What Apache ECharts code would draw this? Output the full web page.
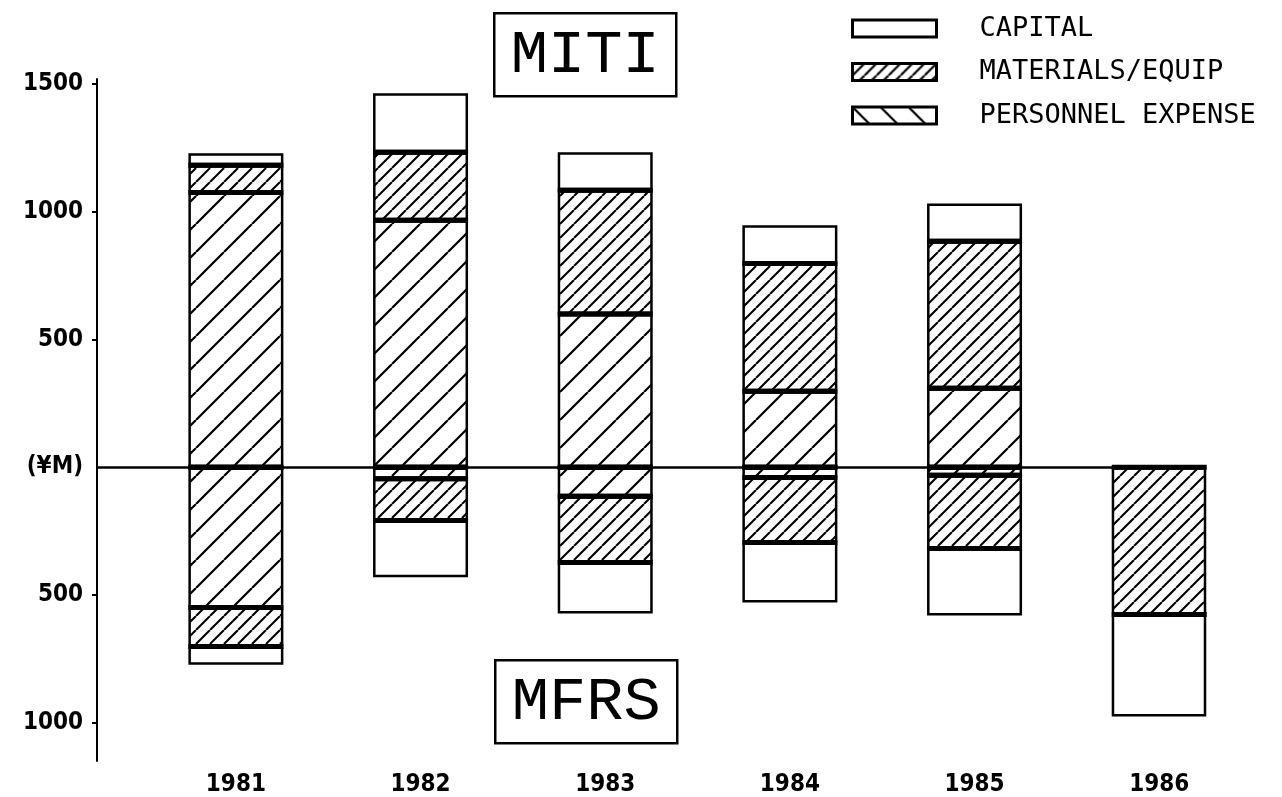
<!DOCTYPE html>
<html>
<head>
<meta charset="utf-8">
<title>MITI / MFRS budget</title>
<script src="https://cdn.jsdelivr.net/npm/echarts@6.0.0/dist/echarts.min.js"></script>
<style>
  html, body { margin: 0; padding: 0; background: #fff; }
  #chart { width: 1282px; height: 797px; }
</style>
</head>
<body>
<div id="chart"></div>
<script>
// values in ¥M; MFRS is drawn below zero
const years = ['1981', '1982', '1983', '1984', '1985', '1986'];
const mitiPersonnel = [1076, 967, 600, 298, 309, 0];
const mitiMaterials = [106, 266, 484, 500, 576, 0];
const mitiCapital = [47, 231, 149, 149, 148, 0];
const mfrsPersonnel = [-549, -45, -114, -40, -31, 0];
const mfrsMaterials = [-153, -163, -259, -255, -287, -576];
const mfrsCapital = [-71, -223, -200, -234, -262, -400];
const yTickValues = [-1000, -500, 0, 500, 1000, 1500];

const BAR_W = 95;
const GAP = -0.02;
const SHIFT = (BAR_W * (1 + GAP)) / 2;

const hatch = (step, forward, width) => {
  const c = document.createElement('canvas');
  c.width = step;
  c.height = step;
  const ctx = c.getContext('2d');
  ctx.fillStyle = '#fff';
  ctx.fillRect(0, 0, step, step);
  ctx.strokeStyle = '#000';
  ctx.lineWidth = width;
  ctx.beginPath();
  for (let k = -1; k <= 1; k++) {
    if (forward) {
      ctx.moveTo(k * step, step);
      ctx.lineTo(k * step + step, 0);
    } else {
      ctx.moveTo(k * step, 0);
      ctx.lineTo(k * step + step, step);
    }
  }
  ctx.stroke();
  return { image: c, repeat: 'repeat' };
};

const personnelFill = hatch(28, true, 2.2);
const materialsFill = hatch(14, true, 2.1);
const personnelLegendFill = hatch(28, false, 2.2);
const materialsLegendFill = hatch(12, true, 2.2);

const noZero = arr => arr.map(v => (v === 0 ? '-' : v));

// heavy rules between stacked segments, taken from the same arrays
const separators = [];
years.forEach((y, i) => {
  [
    [mitiPersonnel, mitiMaterials, mitiCapital],
    [mfrsPersonnel, mfrsMaterials, mfrsCapital]
  ].forEach(group => {
    const segs = group.map(a => a[i]).filter(v => v !== 0);
    if (!segs.length) return;
    separators.push([i, 0]);
    let acc = 0;
    segs.slice(0, -1).forEach(v => {
      acc += v;
      separators.push([i, acc]);
    });
  });
});

const labelFont = "'Liberation Sans Narrow', 'DejaVu Sans Condensed', sans-serif";

const barSeries = (name, data, fill) => ({
  name,
  type: 'bar',
  stack: 'total',
  barWidth: BAR_W,
  barGap: GAP * 100 + '%',
  data: noZero(data),
  itemStyle: {
    color: fill,
    borderColor: '#000',
    borderWidth: 2.5
  },
  emphasis: { disabled: true }
});

const chart = echarts.init(document.getElementById('chart'), null, { renderer: 'canvas' });

chart.setOption({
  animation: false,
  backgroundColor: '#fff',
  grid: { left: 97, right: 77, top: 79, bottom: 36 },
  legend: {
    orient: 'vertical',
    left: 846,
    top: 10,
    icon: 'rect',
    itemWidth: 84,
    itemHeight: 17,
    itemGap: 16.5,
    selectedMode: false,
    textStyle: {
      fontFamily: "'DejaVu Sans Mono', monospace",
      fontSize: 27,
      lineHeight: 27,
      color: '#000',
      padding: [0, 0, 0, 38]
    },
    data: [
      { name: 'CAPITAL', itemStyle: { color: '#fff', borderColor: '#000', borderWidth: 3 } },
      { name: 'MATERIALS/EQUIP', itemStyle: { color: materialsLegendFill, borderColor: '#000', borderWidth: 3 } },
      { name: 'PERSONNEL EXPENSE', itemStyle: { color: personnelLegendFill, borderColor: '#000', borderWidth: 3 } }
    ]
  },
  xAxis: {
    type: 'category',
    data: years,
    axisLine: { show: false, onZero: false },
    axisTick: { show: false },
    axisLabel: {
      margin: 12,
      padding: [0, 0, 0, SHIFT * 2],
      fontFamily: labelFont,
      fontWeight: 'bold',
      fontSize: 24,
      color: '#000'
    },
    splitLine: { show: false }
  },
  yAxis: {
    type: 'value',
    min: -1150,
    max: 1520,
    axisLine: { show: true, lineStyle: { color: '#000', width: 2 } },
    axisTick: {
      show: true,
      length: 5,
      customValues: yTickValues.filter(v => v !== 0),
      lineStyle: { color: '#000', width: 2 }
    },
    axisLabel: {
      customValues: yTickValues,
      margin: 14,
      fontFamily: labelFont,
      fontWeight: 'bold',
      fontSize: 24,
      color: '#000',
      formatter: v => (v === 0 ? '(¥M)' : String(Math.abs(v)))
    },
    splitLine: { show: false }
  },
  series: [
    {
      // empty slot so each stack sits right of its band centre, as in the original
      name: 'pad',
      type: 'bar',
      stack: 'pad',
      barWidth: BAR_W,
      barGap: GAP * 100 + '%',
      data: years.map(() => '-'),
      silent: true
    },
    barSeries('PERSONNEL EXPENSE', mitiPersonnel, personnelFill),
    barSeries('MATERIALS/EQUIP', mitiMaterials, materialsFill),
    barSeries('CAPITAL', mitiCapital, '#fff'),
    barSeries('PERSONNEL EXPENSE', mfrsPersonnel, personnelFill),
    barSeries('MATERIALS/EQUIP', mfrsMaterials, materialsFill),
    barSeries('CAPITAL', mfrsCapital, '#fff'),
    {
      name: 'zero',
      type: 'line',
      data: [],
      silent: true,
      markLine: {
        silent: true,
        symbol: 'none',
        label: { show: false },
        lineStyle: { color: '#000', width: 2.5, type: 'solid' },
        data: [{ yAxis: 0 }]
      }
    },
    {
      name: 'rules',
      type: 'custom',
      silent: true,
      z: 5,
      data: separators,
      renderItem: (params, api) => {
        const pt = api.coord([api.value(0), api.value(1)]);
        return {
          type: 'rect',
          shape: { x: pt[0] + SHIFT - BAR_W / 2, y: pt[1] - 2.5, width: BAR_W, height: 5 },
          style: { fill: '#000' }
        };
      }
    }
  ],
  graphic: [
    {
      type: 'group',
      left: 493,
      top: 12,
      children: [
        { type: 'rect', shape: { x: 0, y: 0, width: 182, height: 83 }, style: { fill: '#fff', stroke: '#000', lineWidth: 2.5 } },
        {
          type: 'text', x: 91, y: 42,
          style: { text: 'MITI', fontFamily: "'Liberation Mono', monospace", fontSize: 62, fill: '#000', align: 'center', verticalAlign: 'middle' }
        }
      ]
    },
    {
      type: 'group',
      left: 494,
      top: 659,
      children: [
        { type: 'rect', shape: { x: 0, y: 0, width: 182, height: 83 }, style: { fill: '#fff', stroke: '#000', lineWidth: 2.5 } },
        {
          type: 'text', x: 91, y: 42,
          style: { text: 'MFRS', fontFamily: "'Liberation Mono', monospace", fontSize: 62, fill: '#000', align: 'center', verticalAlign: 'middle' }
        }
      ]
    }
  ]
});
</script>
</body>
</html>
